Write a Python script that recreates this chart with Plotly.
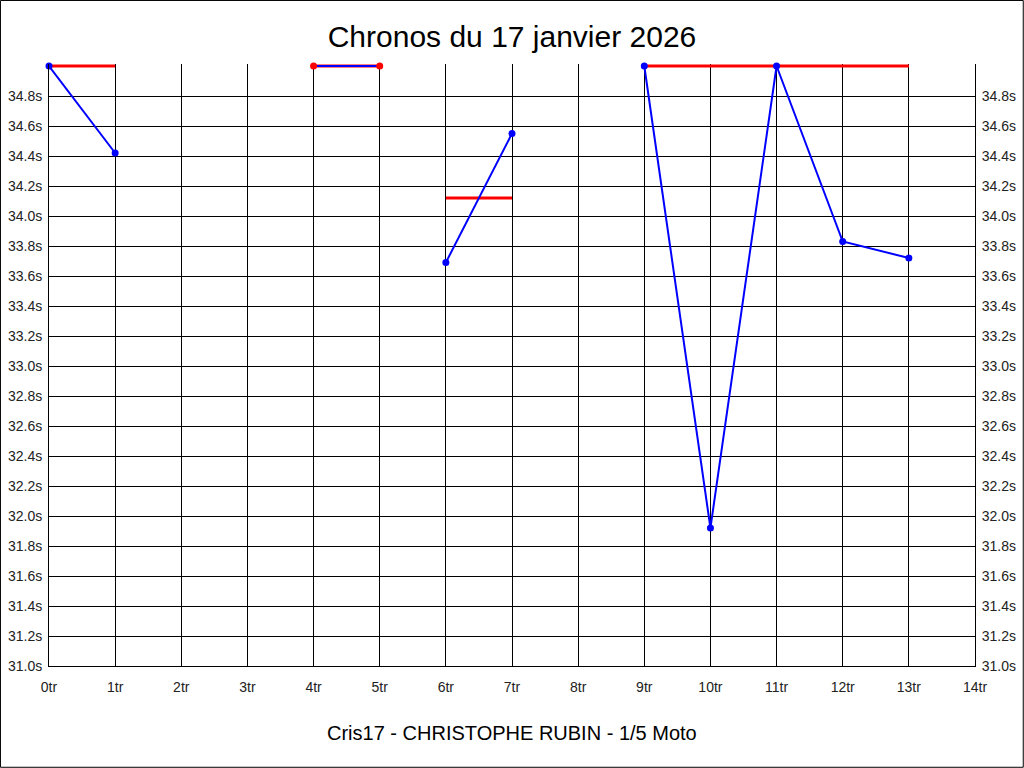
import plotly.graph_objects as go

# Tours, chronos et série (session) de chaque tour
tours = [0, 1, 4, 5, 6, 7, 9, 10, 11, 12, 13]
chronos = [35.0, 34.42, 35.0, 35.0, 33.69, 34.55, 35.0, 31.92, 35.0, 33.83, 33.72]
series = [1, 1, 2, 2, 3, 3, 4, 4, 4, 4, 4]
couleurs_points = ['blue', 'blue', 'red', 'red', 'blue', 'blue',
                   'blue', 'blue', 'blue', 'blue', 'blue']

# Moyennes par série (début, fin, valeur)
moy_debut = [0, 4, 6, 9]
moy_fin = [1, 5, 7, 13]
moy_valeur = [35.0, 35.0, 34.12, 35.0]

y_ticks = [round(31.0 + 0.2 * i, 1) for i in range(20)]
y_labels = [f"{v:.1f}s" for v in y_ticks]
x_ticks = list(range(15))
x_labels = [f"{i}tr" for i in x_ticks]

W, H = 1024, 768
ML, MR, MT, MB = 49, 49, 64, 102
# petite marge en haut pour que les lignes à 35.0s ne soient pas coupées
y_range = [31.0, 35.0 + 2 / 150]

fig = go.Figure()

# Lignes rouges des moyennes
for d, f, v in zip(moy_debut, moy_fin, moy_valeur):
    fig.add_trace(go.Scatter(x=[d, f], y=[v, v], mode='lines',
                             line=dict(color='red', width=3),
                             showlegend=False, hoverinfo='skip'))

# Chronos, une ligne par série
for s in sorted(set(series)):
    xs = [t for t, k in zip(tours, series) if k == s]
    ys = [c for c, k in zip(chronos, series) if k == s]
    fig.add_trace(go.Scatter(x=xs, y=ys, mode='lines',
                             line=dict(color='blue', width=2), showlegend=False))

fig.add_trace(go.Scatter(x=tours, y=chronos, mode='markers',
                         marker=dict(color=couleurs_points, size=7),
                         showlegend=False, cliponaxis=False))

# axe de droite (mêmes graduations)
fig.add_trace(go.Scatter(x=[None], y=[None], yaxis='y2', showlegend=False))

tick_font = dict(family='Liberation Sans, Arial', size=14, color='#222')

fig.update_layout(
    width=W, height=H,
    margin=dict(l=ML, r=MR, t=MT, b=MB, autoexpand=False),
    paper_bgcolor='white', plot_bgcolor='white',
    title=dict(text='Chronos du 17 janvier 2026', x=0.5, xanchor='center',
               y=1 - 36 / H, yanchor='middle',
               font=dict(family='Liberation Sans, Arial', size=30, color='black')),
    xaxis=dict(range=[0, 14], tickvals=x_ticks, ticktext=x_labels,
               showgrid=True, gridcolor='black', gridwidth=1,
               showline=True, linecolor='black', linewidth=1, automargin=False,
               zeroline=False, ticks='', ticklabelstandoff=8, tickfont=tick_font),
    yaxis=dict(range=y_range, tickvals=y_ticks, ticktext=y_labels,
               showgrid=True, gridcolor='black', gridwidth=1,
               showline=True, linecolor='black', linewidth=1, automargin=False,
               zeroline=False, ticks='', ticklabelstandoff=3, tickfont=tick_font),
    yaxis2=dict(range=y_range, tickvals=y_ticks, ticktext=y_labels,
                overlaying='y', side='right', showgrid=False,
                showline=True, linecolor='black', linewidth=1, automargin=False,
                zeroline=False, ticks='', ticklabelstandoff=3, tickfont=tick_font),
    annotations=[dict(text='Cris17 - CHRISTOPHE RUBIN - 1/5 Moto',
                      xref='paper', yref='paper', x=0.5, y=-(733 - (H - MB)) / (H - MT - MB),
                      xanchor='center', yanchor='middle', showarrow=False,
                      font=dict(family='Liberation Sans, Arial', size=20, color='black'))],
    shapes=[dict(type='rect', xref='paper', yref='paper',
                 x0=-ML / (W - ML - MR) + 0.0005, x1=1 + MR / (W - ML - MR) - 0.0008,
                 y0=-MB / (H - MT - MB) + 0.0012, y1=1 + MT / (H - MT - MB) - 0.0008,
                 line=dict(color='black', width=1), layer='above')],
)

fig.write_html("out.html", config={'displayModeBar': False},
               post_script="document.body.style.margin='0';")
